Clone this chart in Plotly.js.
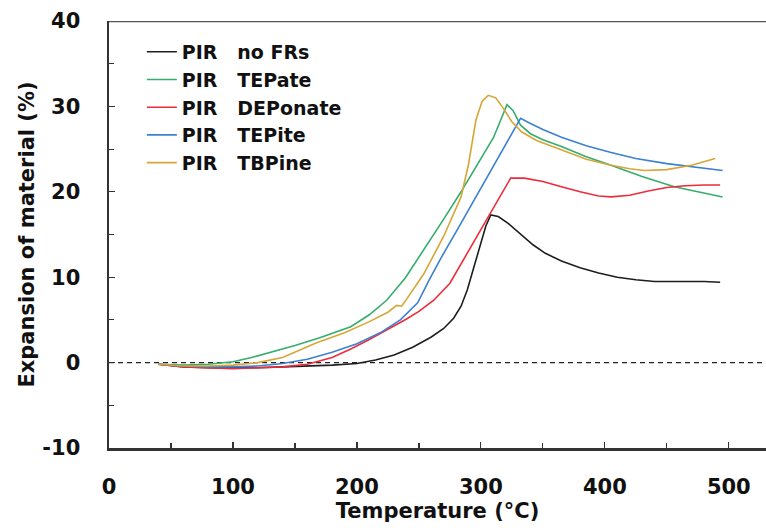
<!DOCTYPE html>
<html>
<head>
<meta charset="utf-8">
<script src="https://cdn.plot.ly/plotly-3.0.1.min.js"></script>
<style>
html,body{margin:0;padding:0;background:#fff;}
#chart{width:766px;height:531px;}
</style>
</head>
<body>
<div id="chart"></div>
<script>
// Temperature (°C) and expansion (%)
const seriesNames = ["PIR\u00a0\u00a0\u00a0no FRs", "PIR\u00a0\u00a0\u00a0TEPate", "PIR\u00a0\u00a0\u00a0DEPonate", "PIR\u00a0\u00a0\u00a0TEPite", "PIR\u00a0\u00a0\u00a0TBPine"];

const tNoFR = [40, 60, 80, 100, 120, 140, 160, 180, 200, 215, 230, 245, 260, 270, 278, 284, 289, 294, 299, 304, 308, 314, 322, 332, 342, 352, 365, 380, 395, 410, 425, 440, 460, 480, 493];
const yNoFR = [-0.2, -0.5, -0.6, -0.6, -0.6, -0.5, -0.4, -0.3, -0.1, 0.3, 0.9, 1.8, 3.0, 4.0, 5.2, 6.6, 8.5, 11.0, 13.6, 16.0, 17.3, 17.1, 16.3, 15.0, 13.8, 12.8, 11.9, 11.1, 10.5, 10.0, 9.7, 9.5, 9.5, 9.5, 9.4];

const tTEPate = [40, 60, 80, 100, 115, 130, 150, 170, 195, 210, 224, 239, 255, 270, 284, 300, 310, 316, 321, 326, 332, 340, 350, 365, 385, 405, 430, 456, 475, 495];
const yTEPate = [-0.2, -0.3, -0.2, 0.1, 0.6, 1.2, 2.0, 2.9, 4.2, 5.6, 7.3, 9.9, 13.4, 16.8, 20.0, 23.8, 26.3, 28.4, 30.2, 29.5, 27.8, 26.8, 26.1, 25.3, 24.1, 23.1, 21.8, 20.6, 20.0, 19.4];

const tDEPonate = [40, 60, 80, 100, 120, 140, 160, 180, 195, 210, 225, 240, 250, 262, 275, 285, 295, 305, 315, 324, 335, 350, 365, 380, 395, 405, 420, 435, 450, 465, 480, 493];
const yDEPonate = [-0.2, -0.5, -0.6, -0.7, -0.6, -0.5, -0.2, 0.6, 1.6, 2.7, 3.9, 5.1, 6.0, 7.3, 9.3, 11.8, 14.3, 16.9, 19.4, 21.6, 21.6, 21.2, 20.6, 20.0, 19.5, 19.4, 19.6, 20.1, 20.5, 20.7, 20.8, 20.8];

const tTEPite = [40, 60, 80, 100, 120, 140, 160, 180, 200, 220, 235, 249, 258, 268, 280, 292, 304, 316, 326, 332, 340, 350, 365, 385, 405, 425, 450, 475, 495];
const yTEPite = [-0.2, -0.4, -0.5, -0.5, -0.4, -0.1, 0.4, 1.2, 2.2, 3.6, 5.0, 7.0, 9.6, 12.3, 15.3, 18.4, 21.5, 24.6, 27.2, 28.6, 28.0, 27.3, 26.4, 25.4, 24.6, 23.9, 23.3, 22.9, 22.5];

const tTBPine = [40, 60, 80, 100, 120, 140, 167, 190, 210, 225, 232, 236, 240, 254, 270, 284, 290, 296, 301, 306, 312, 318, 325, 333, 345, 365, 385, 405, 420, 432, 450, 470, 489];
const yTBPine = [-0.2, -0.4, -0.4, -0.3, 0.0, 0.6, 2.3, 3.5, 4.8, 5.9, 6.7, 6.6, 7.4, 10.4, 14.8, 19.4, 23.2, 28.4, 30.6, 31.3, 31.0, 29.8, 28.2, 27.0, 26.0, 24.9, 23.8, 23.1, 22.7, 22.5, 22.6, 23.1, 23.9];

const xTickVals = [0, 100, 200, 300, 400, 500];
const xTickText = ["0", "100", "200", "300", "400", "500"];
const yTickVals = [-10, 0, 10, 20, 30, 40];
const yTickText = ["-10", "0", "10", "20", "30", "40"];

const colors = ["#1e1e1e", "#35ad6c", "#ee2b3b", "#3c80d2", "#d6a637"];
const xs = [tNoFR, tTEPate, tDEPonate, tTEPite, tTBPine];
const ys = [yNoFR, yTEPate, yDEPonate, yTEPite, yTBPine];

const traces = xs.map((x, i) => ({
  type: "scatter", mode: "lines", x: x, y: ys[i], name: seriesNames[i],
  line: {color: colors[i], width: 1.6}
}));

const font = {family: "DejaVu Sans", size: 21, weight: "bold", color: "#111"};

const layout = {
  width: 766, height: 531,
  margin: {l: 109, r: 0, t: 21, b: 83},
  paper_bgcolor: "#fff", plot_bgcolor: "#fff",
  font: font,
  showlegend: true,
  legend: {
    x: 0.05, y: 0.972, xanchor: "left", yanchor: "top",
    bgcolor: "rgba(0,0,0,0)", borderwidth: 0,
    font: {family: "DejaVu Sans", size: 19, weight: "bold", color: "#111"},
    itemwidth: 30, tracegroupgap: 0
  },
  xaxis: {
    range: [0, 530], tickvals: xTickVals, ticktext: xTickText, ticks: "inside", ticklen: 6, tickwidth: 1.2, tickcolor: "#333",
    minor: {dtick: 50, tick0: 0, ticks: "inside", ticklen: 5, tickwidth: 1.2, tickcolor: "#333", showgrid: false},
    showline: true, linecolor: "#333", linewidth: 2.5, showgrid: false, zeroline: false,
    ticklabelstandoff: 18, tickfont: font,
    title: {text: "Temperature (°C)", font: font, standoff: 2}
  },
  yaxis: {
    range: [-10, 40], tickvals: yTickVals, ticktext: yTickText, ticks: "inside", ticklen: 6, tickwidth: 1.2, tickcolor: "#333",
    minor: {dtick: 5, tick0: 0, ticks: "inside", ticklen: 5, tickwidth: 1.2, tickcolor: "#333", showgrid: false},
    showline: true, linecolor: "#333", linewidth: 2.5, showgrid: false, zeroline: false,
    ticklabelstandoff: 22, tickfont: font,
    title: {text: "Expansion of material (%)", font: font, standoff: 2}
  },
  shapes: [
    {type: "line", xref: "paper", yref: "y", x0: 0, x1: 1, y0: 0, y1: 0, layer: "below",
     line: {color: "#222", width: 1.4, dash: "5px,4px"}},
    {type: "line", xref: "paper", yref: "y", x0: 0, x1: 1, y0: 40, y1: 40,
     line: {color: "#555", width: 2.5}}
  ]
};

Plotly.newPlot("chart", traces, layout, {displayModeBar: false, staticPlot: true});
</script>
</body>
</html>
